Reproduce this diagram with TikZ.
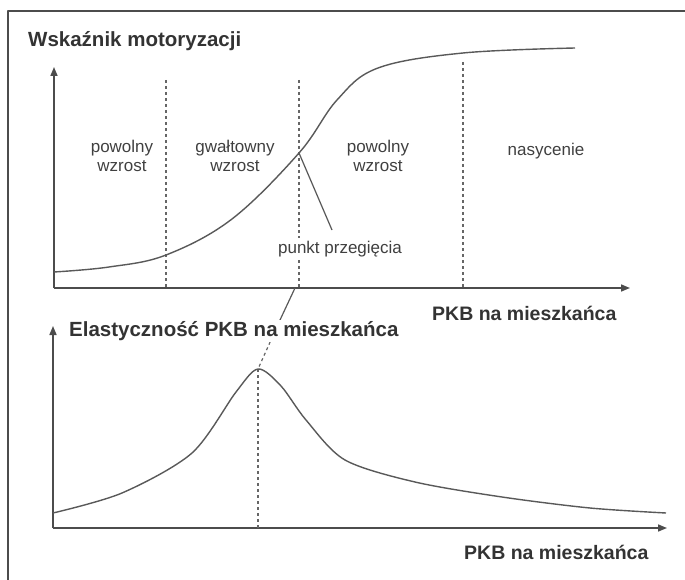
\documentclass[tikz,border=0pt]{standalone}
\usepackage{fontspec}
\setmainfont{Liberation Sans}
\usetikzlibrary{arrows.meta}

\begin{document}
\begin{tikzpicture}[x=1pt, y=-1pt, line join=round]
	\tikzset{
	    axis/.style= {-{Triangle[length=9pt, width=7pt]}, line width=1.6pt, draw=black!70},
	    curve/.style= {line width=1.4pt, draw=black!65},
	    guide/.style= {dash pattern=on 3pt off 3pt, line width=1.2pt, draw=black!60},
	    ttl/.style= {font=\fontsize{20.5}{24}\selectfont\bfseries, text=black!80, inner sep=1pt, anchor=west},
	    lbl/.style= {font=\fontsize{17}{18.5}\selectfont, text=black!75, align=center, inner sep=0pt},
	}
	\useasboundingbox (0,0) rectangle (685,580);
	\draw[line width=1.5pt, black!70] (685,11) -- (8,11) -- (8,580);

	% motorisation curve
	\coordinate (o1) at (54,288);
	\coordinate (infl) at (299,153);
	\coordinate (ldr) at (332,230);
	\draw[axis] (o1) -- (54,67);
	\draw[axis] (o1) -- (630,288);
	\draw[guide] (166,80) -- (166,288);
	\draw[guide] (299,80) -- (299,288);
	\draw[guide] (463,62) -- (463,288);
	\draw[curve] plot[smooth, tension=0.6] coordinates {(54,272) (109,267) (166,255) (232,219) (299,153) (337,100) (378,68) (463,53) (575,48)};
	\draw[curve, line width=1.2pt] (infl) -- (ldr);

	\node[ttl] (t1) at (27,41) {Wskaźnik motoryzacji};
	\node[lbl] (a1) at (122,156) {powolny\\wzrost};
	\node[lbl] (a2) at (235,156) {gwałtowny\\wzrost};
	\node[lbl] (a3) at (378,156) {powolny\\wzrost};
	\node[lbl] (a4) at (546,151) {nasycenie};
	\node[lbl, fill=white, inner sep=3pt] (pp) at (340,249) {punkt przegięcia};
	\node[ttl, font=\fontsize{19.5}{22}\selectfont\bfseries] (x1) at (431,313) {PKB na mieszkańca};

	% elasticity curve
	\coordinate (o2) at (53,528);
	\coordinate (pk) at (258,369);
	\coordinate (cut) at (280,320);
	\draw[axis] (o2) -- (53,326);
	\draw[axis] (o2) -- (667,528);
	\draw[line width=2.4pt, black!70, dash pattern=on 2pt off 1pt] (207,528) -- (420,528);
	\draw[guide] (pk) -- (258,528);
	\draw[curve, line width=1.2pt] (295,288) -- (cut);
	\draw[guide] (cut) -- (pk);
	\draw[curve] plot[smooth, tension=0.5] coordinates {(53,513) (122,493) (192,453) (236,392) (258,369) (281,386) (306,420) (345,460) (415,482) (502,497) (590,508) (666,513)};

	\node[ttl, fill=white] (t2) at (68,331) {Elastyczność PKB na mieszkańca};
	\node[ttl, font=\fontsize{19.5}{22}\selectfont\bfseries] (x2) at (463,552) {PKB na mieszkańca};
\end{tikzpicture}
\end{document}
